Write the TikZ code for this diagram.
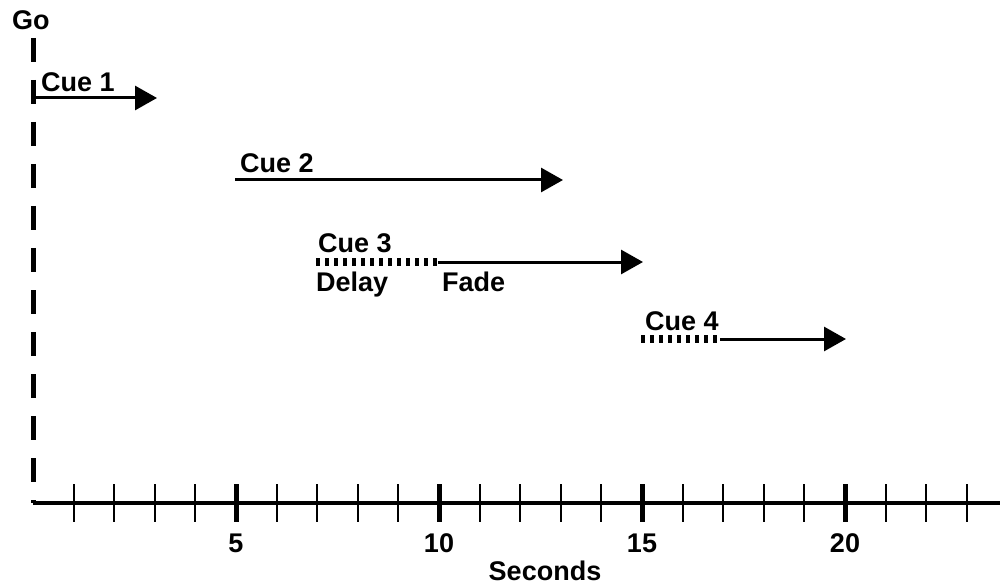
\documentclass[tikz,border=0pt]{standalone}
\usepackage{fontspec}
\setmainfont{Liberation Sans}
\usetikzlibrary{arrows.meta}
\begin{document}
\begin{tikzpicture}[x=1pt,y=-1pt,
  lbl/.style={inner sep=0pt,anchor=base west,font=\fontsize{27}{30}\selectfont\bfseries},
  numlbl/.style={inner sep=0pt,anchor=center,font=\fontsize{27}{30}\selectfont\bfseries},
  cuearrow/.style={line width=3pt,-{Triangle[length=22pt,width=24pt]}},
  delayline/.style={line width=8pt,dash pattern=on 4pt off 5pt},
  goline/.style={line width=5pt,dash pattern=on 24pt off 18pt},
  axisline/.style={line width=4pt},
  minortick/.style={line width=2pt},
  majortick/.style={line width=5pt}]
\useasboundingbox (0,0) rectangle (1003,585);

% time origin and axis
\coordinate (go top) at (33,38);
\coordinate (origin) at (33,503);
\coordinate (axis end) at (1000,503);
\node[lbl] (go) at (12,30) {Go};
\draw[goline] (go top) -- (origin);
\draw[axisline] (origin) -- (axis end);

% ticks, one per second
\foreach \i in {1,...,23}{
  \pgfmathsetmacro{\tx}{33+40.6*\i}
  \ifnum\i=5 \def\tk{majortick}\else\ifnum\i=10 \def\tk{majortick}\else
  \ifnum\i=15 \def\tk{majortick}\else\ifnum\i=20 \def\tk{majortick}\else
  \def\tk{minortick}\fi\fi\fi\fi
  \draw[\tk] (\tx,484) -- (\tx,522);
}
\foreach \i in {5,10,15,20}{
  \pgfmathsetmacro{\tx}{33+40.6*\i}
  \node[numlbl] (n\i) at (\tx,543) {\i};
}
\node[lbl,anchor=base] (seconds) at (545,580) {Seconds};

% Cue 1
\coordinate (c1s) at (33,98);
\coordinate (c1e) at (157,98);
\node[lbl] (cue1) at (41,92) {Cue 1};
\draw[cuearrow] (c1s) -- (c1e);

% Cue 2
\coordinate (c2s) at (235,180);
\coordinate (c2e) at (563,180);
\node[lbl] (cue2) at (240,173) {Cue 2};
\draw[cuearrow] (c2s) -- (c2e);

% Cue 3: delay then fade
\coordinate (c3s) at (316,262);
\coordinate (c3m) at (438,262);
\coordinate (c3e) at (643,262);
\node[lbl] (cue3) at (318,253) {Cue 3};
\node[lbl] (delay) at (316,291) {Delay};
\node[lbl] (fade) at (442,291) {Fade};
\draw[delayline] (c3s) -- (c3m);
\draw[cuearrow] (c3m) -- (c3e);

% Cue 4: delay then fade
\coordinate (c4s) at (641,339);
\coordinate (c4m) at (720,339);
\coordinate (c4e) at (846,339);
\node[lbl] (cue4) at (645,330) {Cue 4};
\draw[delayline] (c4s) -- (c4m);
\draw[cuearrow] (c4m) -- (c4e);
\end{tikzpicture}
\end{document}
